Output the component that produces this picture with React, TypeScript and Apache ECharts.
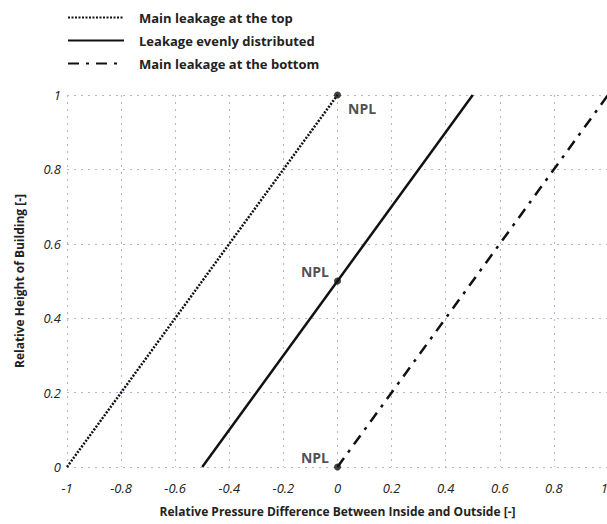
import React, { useEffect, useRef } from "react";
import * as echarts from "echarts";

const seriesNames = ["Main leakage at the top", "Leakage evenly distributed", "Main leakage at the bottom"];
const topLine = [[-1, 0], [0, 1]];
const evenLine = [[-0.5, 0], [0.5, 1]];
const bottomLine = [[0, 0], [1, 1]];
const nplPoints = [[0, 1], [0, 0.5], [0, 0]];
const nplLabel = "NPL";
const xName = "Relative Pressure Difference Between Inside and Outside [-]";
const yName = "Relative Height of Building [-]";

const FONT = "'Open Sans', sans-serif";

export default function App() {
  const ref = useRef<HTMLDivElement>(null);
  useEffect(() => {
    document.body.style.margin = "0";
    const chart = echarts.init(ref.current!, null, { renderer: "svg" });
    const gridLine = { show: true, lineStyle: { color: "#b9b3dc", type: [2, 5] as any, width: 1 } };
    chart.setOption({
      animation: false,
      backgroundColor: "#fff",
      legend: {
        orient: "vertical",
        left: 62,
        top: 6,
        itemWidth: 56,
        itemHeight: 14,
        itemGap: 10,
        data: seriesNames,
        itemStyle: { opacity: 0, borderWidth: 0 },
        textStyle: { fontFamily: FONT, fontSize: 13, fontWeight: "bold", color: "#222", padding: [0, 0, 0, 10] },
      },
      grid: { left: 67, width: 541, top: 95, height: 372, outerBoundsMode: "none", containLabel: false },
      xAxis: {
        type: "value",
        min: -1,
        max: 1,
        interval: 0.2,
        name: xName,
        nameLocation: "middle",
        nameGap: 38,
        nameTextStyle: { fontFamily: FONT, fontSize: 12, fontWeight: "bold", color: "#222" },
        axisLine: { show: false },
        axisTick: { show: false },
        axisLabel: {
          fontFamily: FONT, fontSize: 13, fontStyle: "italic", color: "#222", margin: 14,
          alignMaxLabel: "right",
          formatter: (v: number) => String(Math.round(v * 10) / 10),
        },
        splitLine: gridLine,
      },
      yAxis: {
        type: "value",
        min: 0,
        max: 1,
        interval: 0.2,
        name: yName,
        nameLocation: "middle",
        nameGap: 42,
        nameTextStyle: { fontFamily: FONT, fontSize: 12, fontWeight: "bold", color: "#222" },
        axisLine: { show: false },
        axisTick: { show: false },
        axisLabel: {
          fontFamily: FONT, fontSize: 13, fontStyle: "italic", color: "#222", margin: 6,
          formatter: (v: number) => String(Math.round(v * 10) / 10),
        },
        splitLine: gridLine,
      },
      series: [
        {
          name: seriesNames[0], type: "line", data: topLine, symbol: "none",
          lineStyle: { color: "#111", width: 2.5, type: [2, 1.5] },
          itemStyle: { color: "#111" },
        },
        {
          name: seriesNames[1], type: "line", data: evenLine, symbol: "none",
          lineStyle: { color: "#111", width: 2.5, type: "solid" },
          itemStyle: { color: "#111" },
        },
        {
          name: seriesNames[2], type: "line", data: bottomLine, symbol: "none",
          lineStyle: { color: "#111", width: 2.5, type: [11, 7, 3, 7] },
          itemStyle: { color: "#111" },
        },
        {
          name: "NPL", type: "scatter", symbolSize: 7, itemStyle: { color: "#111" },
          data: nplPoints.map((p, i) => ({
            value: p,
            label: {
              show: true,
              formatter: nplLabel,
              position: i === 0 ? "right" : "left",
              offset: i === 0 ? [2, 13] : [0, -10],
              fontFamily: FONT, fontSize: 14, fontWeight: "bold", color: "#222",
            },
          })),
        },
      ],
    });
    return () => chart.dispose();
  }, []);
  return <div ref={ref} style={{ width: 607, height: 524, position: "absolute", left: 0, top: 0 }} />;
}
